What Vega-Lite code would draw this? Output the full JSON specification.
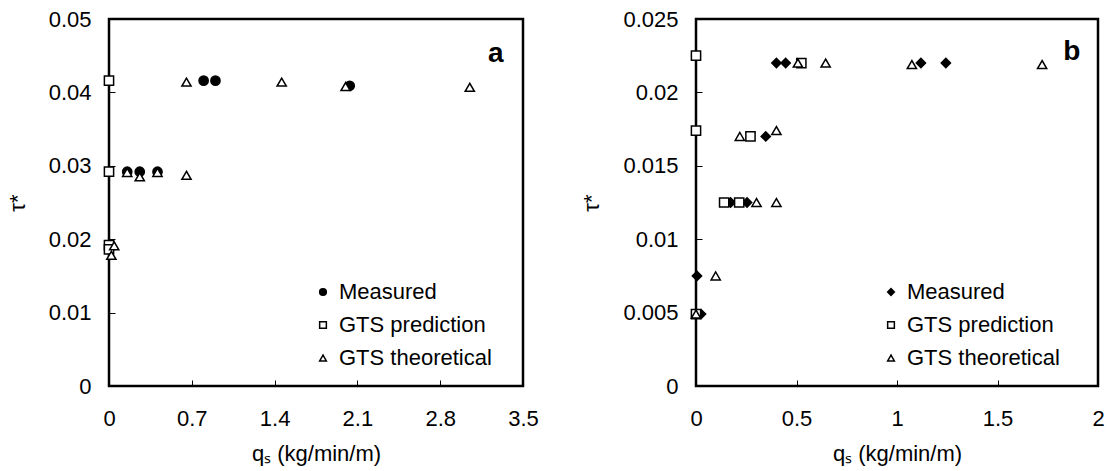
{
  "$schema": "https://vega.github.io/schema/vega-lite/v6.json",
  "background": "white",
  "padding": {"left": 4, "top": 6, "right": 0, "bottom": 0},
  "datasets": {
    "a": [
      {"q": 0.154, "tau": 0.0292, "series": "Measured"},
      {"q": 0.26, "tau": 0.0292, "series": "Measured"},
      {"q": 0.41, "tau": 0.0292, "series": "Measured"},
      {"q": 0.8, "tau": 0.0416, "series": "Measured"},
      {"q": 0.9, "tau": 0.0416, "series": "Measured"},
      {"q": 2.035, "tau": 0.0409, "series": "Measured"},
      {"q": 0, "tau": 0.0416, "series": "GTS prediction"},
      {"q": 0, "tau": 0.0292, "series": "GTS prediction"},
      {"q": 0, "tau": 0.0192, "series": "GTS prediction"},
      {"q": 0, "tau": 0.0186, "series": "GTS prediction"},
      {"q": 0.655, "tau": 0.0414, "series": "GTS theoretical"},
      {"q": 1.46, "tau": 0.0414, "series": "GTS theoretical"},
      {"q": 2.0, "tau": 0.0408, "series": "GTS theoretical"},
      {"q": 3.05, "tau": 0.0407, "series": "GTS theoretical"},
      {"q": 0.154, "tau": 0.0291, "series": "GTS theoretical"},
      {"q": 0.26, "tau": 0.0285, "series": "GTS theoretical"},
      {"q": 0.41, "tau": 0.0291, "series": "GTS theoretical"},
      {"q": 0.655, "tau": 0.0287, "series": "GTS theoretical"},
      {"q": 0.044, "tau": 0.0191, "series": "GTS theoretical"},
      {"q": 0.02, "tau": 0.0178, "series": "GTS theoretical"}
    ],
    "b": [
      {"q": 0.4, "tau": 0.022, "series": "Measured"},
      {"q": 0.446, "tau": 0.022, "series": "Measured"},
      {"q": 1.119, "tau": 0.022, "series": "Measured"},
      {"q": 1.243, "tau": 0.022, "series": "Measured"},
      {"q": 0.347, "tau": 0.017, "series": "Measured"},
      {"q": 0.172, "tau": 0.0125, "series": "Measured"},
      {"q": 0.254, "tau": 0.0125, "series": "Measured"},
      {"q": 0.005, "tau": 0.0075, "series": "Measured"},
      {"q": 0.025, "tau": 0.0049, "series": "Measured"},
      {"q": 0, "tau": 0.0225, "series": "GTS prediction"},
      {"q": 0, "tau": 0.0174, "series": "GTS prediction"},
      {"q": 0.524, "tau": 0.022, "series": "GTS prediction"},
      {"q": 0.271, "tau": 0.017, "series": "GTS prediction"},
      {"q": 0.14, "tau": 0.0125, "series": "GTS prediction"},
      {"q": 0.215, "tau": 0.0125, "series": "GTS prediction"},
      {"q": 0, "tau": 0.0049, "series": "GTS prediction"},
      {"q": 0.507, "tau": 0.022, "series": "GTS theoretical"},
      {"q": 0.645, "tau": 0.022, "series": "GTS theoretical"},
      {"q": 1.074, "tau": 0.0219, "series": "GTS theoretical"},
      {"q": 1.722, "tau": 0.0219, "series": "GTS theoretical"},
      {"q": 0.218, "tau": 0.017, "series": "GTS theoretical"},
      {"q": 0.4, "tau": 0.0174, "series": "GTS theoretical"},
      {"q": 0.301, "tau": 0.0125, "series": "GTS theoretical"},
      {"q": 0.4, "tau": 0.0125, "series": "GTS theoretical"},
      {"q": 0.098, "tau": 0.0075, "series": "GTS theoretical"},
      {"q": 0, "tau": 0.0049, "series": "GTS theoretical"}
    ]
  },
  "hconcat": [
    {
      "width": 414,
      "height": 367,
      "layer": [
        {
          "data": {"name": "a"},
          "mark": {"type": "point", "filled": true, "stroke": "black", "strokeWidth": 1.5, "size": 85, "opacity": 1},
          "encoding": {
            "x": {"field": "q", "type": "quantitative", "scale": {"domain": [0, 3.5], "nice": false},
              "axis": {"values": [0, 0.7, 1.4, 2.1, 2.8, 3.5], "format": "~g", "labelPadding": 22, "titlePadding": 14, "title": "qₛ (kg/min/m)"}},
            "y": {"field": "tau", "type": "quantitative", "scale": {"domain": [0, 0.05], "nice": false},
              "axis": {"values": [0, 0.005, 0.01, 0.015, 0.02, 0.025, 0.03, 0.035, 0.04, 0.045, 0.05], "format": "~g",
                "labelExpr": "round(datum.value*1000) % 10 == 0 ? datum.label : ''", "labelPadding": 18, "titlePadding": 19, "title": "τ*"}},
            "shape": {"field": "series", "type": "nominal",
              "scale": {"domain": ["Measured", "GTS prediction", "GTS theoretical"], "range": ["circle", "square", "triangle-up"]},
              "legend": {"orient": "none", "legendX": 203, "legendY": 262, "title": null,
                "encode": {"symbols": {"update": {"stroke": {"value": "black"}, "strokeWidth": {"value": 1}}}}}},
            "fill": {"field": "series", "type": "nominal",
              "scale": {"domain": ["Measured", "GTS prediction", "GTS theoretical"], "range": ["black", "white", "white"]},
              "legend": {"orient": "none", "legendX": 203, "legendY": 262, "title": null,
                "encode": {"symbols": {"update": {"stroke": {"value": "black"}, "strokeWidth": {"value": 1}}}}}}
          }
        },
        {
          "data": {"values": [{}]},
          "mark": {"type": "text", "fontSize": 28, "fontWeight": "bold", "align": "center", "baseline": "middle"},
          "encoding": {"x": {"datum": 3.27}, "y": {"datum": 0.0452}, "text": {"value": "a"}}
        }
      ]
    },
    {
      "width": 402,
      "height": 367,
      "layer": [
        {
          "data": {"name": "b"},
          "mark": {"type": "point", "filled": true, "stroke": "black", "strokeWidth": 1.5, "size": 85, "opacity": 1},
          "encoding": {
            "x": {"field": "q", "type": "quantitative", "scale": {"domain": [0, 2], "nice": false},
              "axis": {"values": [0, 0.5, 1, 1.5, 2], "format": "~g", "labelPadding": 22, "titlePadding": 14, "title": "qₛ (kg/min/m)"}},
            "y": {"field": "tau", "type": "quantitative", "scale": {"domain": [0, 0.025], "nice": false},
              "axis": {"values": [0, 0.005, 0.01, 0.015, 0.02, 0.025], "format": "~g", "labelPadding": 18, "titlePadding": 19, "title": "τ*"}},
            "shape": {"field": "series", "type": "nominal",
              "scale": {"domain": ["Measured", "GTS prediction", "GTS theoretical"], "range": ["diamond", "square", "triangle-up"]},
              "legend": {"orient": "none", "legendX": 184, "legendY": 262, "title": null,
                "encode": {"symbols": {"update": {"stroke": {"value": "black"}, "strokeWidth": {"value": 1}}}}}},
            "fill": {"field": "series", "type": "nominal",
              "scale": {"domain": ["Measured", "GTS prediction", "GTS theoretical"], "range": ["black", "white", "white"]},
              "legend": {"orient": "none", "legendX": 184, "legendY": 262, "title": null,
                "encode": {"symbols": {"update": {"stroke": {"value": "black"}, "strokeWidth": {"value": 1}}}}}}
          }
        },
        {
          "data": {"values": [{}]},
          "mark": {"type": "text", "fontSize": 28, "fontWeight": "bold", "align": "center", "baseline": "middle"},
          "encoding": {"x": {"datum": 1.87}, "y": {"datum": 0.02275}, "text": {"value": "b"}}
        }
      ]
    }
  ],
  "spacing": 39,
  "resolve": {"scale": {"shape": "independent", "fill": "independent"}, "legend": {"shape": "independent", "fill": "independent"}},
  "config": {
    "font": "Liberation Sans",
    "view": {"stroke": "black", "strokeWidth": 2.5},
    "axis": {
      "grid": false, "domain": false, "offset": -6, "tickColor": "black", "tickSize": 6, "tickWidth": 1, "labelFlush": false,
      "labelFontSize": 22, "labelColor": "black", "labelFont": "Liberation Sans",
      "titleFontSize": 22, "titleFontWeight": "normal", "titleColor": "black", "titleFont": "Liberation Sans"
    },
    "legend": {
      "labelFontSize": 22, "labelColor": "black", "labelFont": "Liberation Sans",
      "symbolSize": 45, "labelOffset": 5, "rowPadding": 11
    }
  }
}
